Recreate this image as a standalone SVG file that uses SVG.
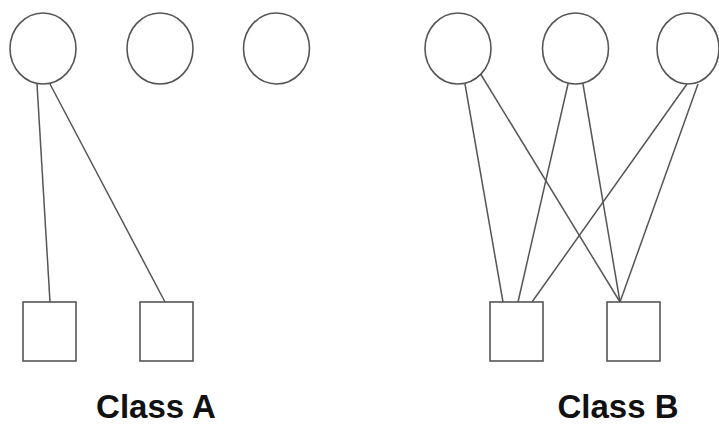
<svg xmlns="http://www.w3.org/2000/svg" width="719" height="432" viewBox="0 0 719 432">
<style>
.n{fill:#fff;stroke:#555;stroke-width:1.6}
.e{stroke:#555;stroke-width:1.5;fill:none}
.t{font-family:"Liberation Sans",Arial,sans-serif;font-weight:bold;font-size:33px;fill:#111;text-anchor:middle}
</style>
<rect width="719" height="432" fill="#fff"/>
<g id="connectors">
<line class="e" x1="37" y1="84" x2="50" y2="302"/>
<line class="e" x1="50" y1="84" x2="165" y2="302"/>
<line class="e" x1="465" y1="84" x2="503" y2="302"/>
<line class="e" x1="480" y1="73" x2="620" y2="302"/>
<line class="e" x1="568" y1="84" x2="518" y2="302"/>
<line class="e" x1="583" y1="84" x2="620" y2="302"/>
<line class="e" x1="687" y1="84" x2="532" y2="302"/>
<line class="e" x1="698" y1="84" x2="620" y2="302"/>
</g>
<g id="a-c1"><ellipse class="n" cx="43" cy="48.5" rx="33" ry="35.5"/></g>
<g id="a-c2"><ellipse class="n" cx="160" cy="48.5" rx="33" ry="35.5"/></g>
<g id="a-c3"><ellipse class="n" cx="276.5" cy="48.5" rx="33" ry="35.5"/></g>
<g id="a-s1"><rect class="n" x="23" y="302" width="53" height="59"/></g>
<g id="a-s2"><rect class="n" x="140" y="302" width="53" height="59"/></g>
<g id="b-c1"><ellipse class="n" cx="458" cy="48.5" rx="33" ry="35.5"/></g>
<g id="b-c2"><ellipse class="n" cx="575.5" cy="48.5" rx="33" ry="35.5"/></g>
<g id="b-c3"><ellipse class="n" cx="688" cy="48.5" rx="31" ry="35.5"/></g>
<g id="b-s1"><rect class="n" x="490" y="302" width="53" height="59"/></g>
<g id="b-s2"><rect class="n" x="607" y="302" width="53" height="59"/></g>
<g id="labels">
<text class="t" x="156" y="418">Class A</text>
<text class="t" x="618" y="418">Class B</text>
</g>
</svg>
